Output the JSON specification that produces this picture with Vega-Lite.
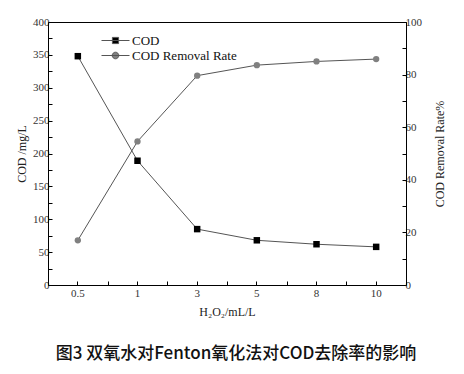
{
  "$schema": "https://vega.github.io/schema/vega-lite/v6.json",
  "width": 358,
  "height": 263,
  "autosize": {"type": "none"},
  "padding": {"left": 48, "top": 22, "right": 58, "bottom": 89},
  "background": "white",
  "data": {"values": [
    {"h2o2": "0.5", "COD": 348, "rate": 17.0},
    {"h2o2": "1", "COD": 189, "rate": 54.6},
    {"h2o2": "3", "COD": 85, "rate": 79.6},
    {"h2o2": "5", "COD": 68, "rate": 83.6},
    {"h2o2": "8", "COD": 62, "rate": 85.0},
    {"h2o2": "10", "COD": 58, "rate": 85.9}
  ]},
  "title": {
    "text": "图3 双氧水对Fenton氧化法对COD去除率的影响",
    "orient": "bottom",
    "anchor": "middle",
    "font": "Noto Sans CJK SC",
    "fontSize": 17,
    "fontWeight": 500,
    "color": "#111",
    "offset": 29,
    "dx": 9
  },
  "layer": [
    {
      "encoding": {
        "x": {"field": "h2o2", "type": "ordinal", "sort": ["0.5", "1", "3", "5", "8", "10"],
              "scale": {"type": "band", "paddingInner": 0, "paddingOuter": 0},
              "axis": {"orient": "bottom", "title": "H₂O₂/mL/L", "labelAngle": 0, "labelPadding": 6, "titlePadding": 8}},
        "y": {"field": "COD", "type": "quantitative", "scale": {"domain": [0, 400], "nice": false},
              "axis": {"orient": "left", "title": "COD /mg/L", "values": [0,25,50,75,100,125,150,175,200,225,250,275,300,325,350,375,400],
                       "labelExpr": "datum.value % 50 === 0 ? datum.label : ''", "labelPadding": 3, "titlePadding": 4}}
      },
      "layer": [
        {"mark": {"type": "line", "color": "#555", "strokeWidth": 1}},
        {"mark": {"type": "point", "filled": true, "opacity": 1, "size": 42, "shape": "square", "color": "#000000"}},
        {
          "mark": {"type": "point", "filled": true, "opacity": 1, "size": 0},
          "encoding": {
            "color": {"datum": "COD", "type": "nominal",
                      "scale": {"domain": ["COD", "COD Removal Rate"], "range": ["#000000", "#808080"]},
                      "legend": {"title": null, "orient": "none", "legendX": 60, "legendY": 11, "symbolSize": 196, "labelOffset": 9,
                                 "labelFont": "Liberation Serif", "labelFontSize": 13, "labelColor": "#111", "rowPadding": 0, "padding": 0,
                                 "symbolStrokeColor": "#555", "symbolStrokeWidth": 1}},
            "shape": {"datum": "COD", "type": "nominal",
                      "scale": {"domain": ["COD", "COD Removal Rate"],
                                "range": ["M-2,0H2M-0.44,-0.44H0.44V0.44H-0.44Z", "M-2,0H2M-0.47,0A0.47,0.47,0,1,0,0.47,0A0.47,0.47,0,1,0,-0.47,0Z"]},
                      "legend": {"title": null, "orient": "none", "legendX": 60, "legendY": 11, "symbolSize": 196, "labelOffset": 9,
                                 "labelFont": "Liberation Serif", "labelFontSize": 13, "labelColor": "#111", "rowPadding": 0, "padding": 0,
                                 "symbolStrokeColor": "#555", "symbolStrokeWidth": 1}}
          }
        }
      ]
    },
    {
      "encoding": {
        "x": {"field": "h2o2", "type": "ordinal", "sort": ["0.5", "1", "3", "5", "8", "10"],
              "scale": {"type": "band", "paddingInner": 0, "paddingOuter": 0},
              "axis": {"orient": "bottom", "title": null, "labels": false, "domain": false, "tickBand": "extent"}},
        "y": {"field": "rate", "type": "quantitative", "scale": {"domain": [0, 100], "nice": false},
              "axis": {"orient": "right", "title": "COD Removal Rate%", "values": [0,10,20,30,40,50,60,70,80,90,100],
                       "labelExpr": "datum.value % 20 === 0 ? datum.label : ''", "labelPadding": 3, "titlePadding": 13, "titleAngle": 270, "titleBaseline": "top"}}
      },
      "layer": [
        {"mark": {"type": "line", "color": "#555", "strokeWidth": 1}},
        {"mark": {"type": "point", "filled": true, "opacity": 1, "size": 40, "shape": "circle", "color": "#808080"}},
        {
          "mark": {"type": "point", "filled": true, "opacity": 1, "size": 0},
          "encoding": {
            "color": {"datum": "COD Removal Rate", "type": "nominal"},
            "shape": {"datum": "COD Removal Rate", "type": "nominal"}
          }
        }
      ]
    }
  ],
  "resolve": {"scale": {"y": "independent"}, "axis": {"x": "independent", "y": "independent"}},
  "config": {
    "view": {"stroke": "black", "strokeWidth": 1},
    "axis": {"domainColor": "black", "tickColor": "black", "labelFont": "Liberation Serif", "titleFont": "Liberation Serif",
             "labelFontSize": 11, "titleFontSize": 12, "titleFontWeight": "normal", "labelColor": "#333", "titleColor": "#222",
             "grid": false, "tickSize": -4}
  }
}
